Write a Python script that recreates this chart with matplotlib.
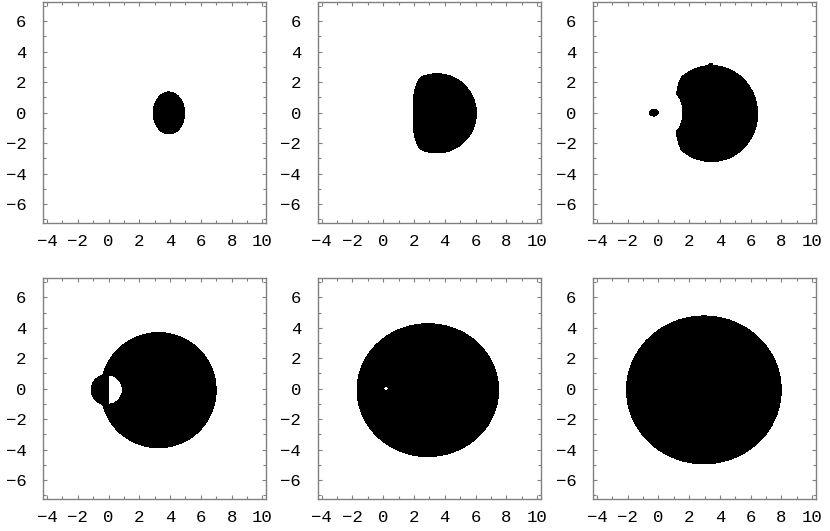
import numpy as np
import matplotlib
matplotlib.use("Agg")
import matplotlib.pyplot as plt
from matplotlib.ticker import MultipleLocator

# =========================================
# DATA  (shapes)
# each entry: (mode, cx, cy, rx, ry, power, xmin)
#   mode "add"  -> region becomes black
#   mode "cut"  -> region becomes white
#   mode "clip" -> keep black only inside
# =========================================
INF = np.inf

panel_a = [("add", 3.93, -0.03, 1.02, 1.38, 2, -INF)]

panel_b = [
    ("add", 3.50, -0.05, 2.55, 2.60, 2, -INF),
    ("clip", 4.13, -0.05, 2.20, 2.90, 3, -INF),
]

panel_c = [
    ("add", 3.45, -0.07, 3.00, 3.15, 2, -INF),
    ("clip", 4.00, -0.07, 2.88, 3.40, 3, -INF),
    ("cut", 0.60, 0.00, 1.00, 1.50, 2, -INF),
    ("add", -0.29, 0.00, 0.29, 0.22, 2, -INF),
    ("add", 3.40, 3.10, 0.15, 0.12, 2, -INF),
]

panel_d = [
    ("add", 3.25, -0.10, 3.75, 3.78, 2, -INF),
    ("add", -0.10, -0.07, 1.02, 1.00, 2, -INF),
    ("cut", 0.00, -0.07, 0.90, 0.95, 2, 0.0),
]

panel_e = [
    ("add", 2.90, -0.09, 4.60, 4.36, 2, -INF),
    ("cut", 0.19, 0.00, 0.15, 0.13, 2, -INF),
]

panel_f = [("add", 2.96, -0.08, 5.03, 4.85, 2, -INF)]

panels = [panel_a, panel_b, panel_c, panel_d, panel_e, panel_f]

X_RANGE = (-4.25, 10.25)
Y_RANGE = (-7.25, 7.25)

# =========================================
# STYLE
# =========================================
FRAME_COLOR = "#808080"
plt.rcParams["font.family"] = ["Liberation Mono", "DejaVu Sans Mono"]

# axes boxes in figure fractions
LEFTS = [0.052, 0.383, 0.7145]
BOTTOMS = [0.580, 0.060]
W, H = 0.2687, 0.416


def region_mask(shapes, X, Y):
    mask = np.zeros_like(X, dtype=bool)
    for mode, cx, cy, rx, ry, pw, xmin in shapes:
        inside = (np.abs((X - cx) / rx) ** pw + np.abs((Y - cy) / ry) ** pw <= 1) & (X >= xmin)
        if mode == "add":
            mask |= inside
        elif mode == "cut":
            mask &= ~inside
        elif mode == "clip":
            mask &= inside
    return mask


def style_axes(ax):
    ax.set_xlim(*X_RANGE)
    ax.set_ylim(*Y_RANGE)
    ax.xaxis.set_major_locator(MultipleLocator(2))
    ax.xaxis.set_minor_locator(MultipleLocator(1))
    ax.yaxis.set_major_locator(MultipleLocator(2))
    ax.yaxis.set_minor_locator(MultipleLocator(1))
    for spine in ax.spines.values():
        spine.set_color(FRAME_COLOR)
        spine.set_linewidth(1.0)
    ax.tick_params(which="both", direction="in", top=True, right=True,
                   color=FRAME_COLOR, width=0.8)
    ax.tick_params(which="major", length=3)
    ax.tick_params(which="minor", length=2.5)
    ax.tick_params(axis="x", labelsize=12.5, pad=8)
    ax.tick_params(axis="y", labelsize=12.5, pad=12)


xs = np.linspace(X_RANGE[0], X_RANGE[1], 900)
ys = np.linspace(Y_RANGE[0], Y_RANGE[1], 900)
X, Y = np.meshgrid(xs, ys)

fig = plt.figure(figsize=(8.3, 5.31), dpi=100)

for i, shapes in enumerate(panels):
    row, col = divmod(i, 3)
    ax = fig.add_axes([LEFTS[col], BOTTOMS[row], W, H])
    mask = region_mask(shapes, X, Y).astype(float)
    ax.contourf(X, Y, mask, levels=[0.5, 1.5], colors="black")
    style_axes(ax)

fig.savefig("out.png", dpi=100)
